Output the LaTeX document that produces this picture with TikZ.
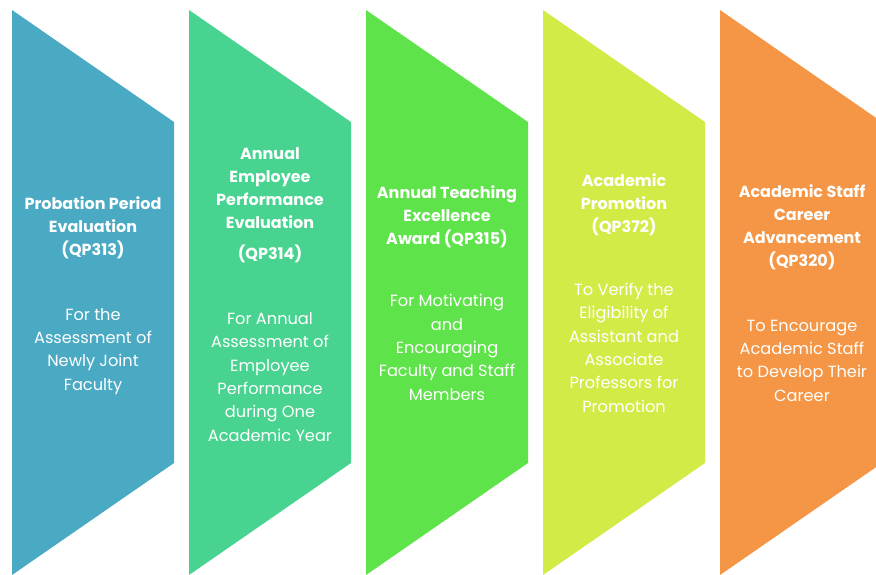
\documentclass[tikz,border=0pt]{standalone}
\usepackage{fontspec}
\setmainfont{Poppins}
\definecolor{cblue}{HTML}{4AAAC4}
\definecolor{cteal}{HTML}{48D490}
\definecolor{cgreen}{HTML}{5FE34A}
\definecolor{cyellow}{HTML}{D4EB47}
\definecolor{corange}{HTML}{F59646}
\tikzset{
  ttl/.style={text=white, align=center, anchor=base, inner sep=0pt,
    font=\fontsize{16}{22.8}\selectfont\bfseries},
  bdy/.style={text=white, align=center, anchor=base, inner sep=0pt,
    font=\fontsize{16.2}{23.3}\selectfont},
}
\newcommand{\chev}[2]{%
  \fill[#2] (#1,10) -- ++(162,112) -- ++(0,341) -- ++(-162,112) -- cycle;}
\begin{document}
\begin{tikzpicture}[x=1pt,y=-1pt]
\useasboundingbox (0,0) rectangle (876,574);
\begin{scope}
\clip (0,0) rectangle (876,574);
\chev{12}{cblue}
\chev{189}{cteal}
\chev{366}{cgreen}
\chev{543}{cyellow}
\chev{720}{corange}
\end{scope}
% shape 1
\node[ttl] (t1) at (93,255) {Probation Period\\Evaluation\\(QP313)};
\node[bdy] (b1) at (93,390) {For the\\Assessment of\\Newly Joint\\Faculty};
% shape 2
\node[ttl] (t2) at (270,228) {Annual\\Employee\\Performance\\Evaluation};
\node[ttl] (q2) at (270,259) {(QP314)};
\node[bdy] (b2) at (270,441) {For Annual\\Assessment of\\Employee\\Performance\\during One\\Academic Year};
% shape 3
\node[ttl] (t3) at (447,244) {Annual Teaching\\Excellence\\Award (QP315)};
\node[bdy] (b3) at (447,400) {For Motivating\\and\\Encouraging\\Faculty and Staff\\Members};
% shape 4
\node[ttl] (t4) at (624,232) {Academic\\Promotion\\(QP372)};
\node[bdy] (b4) at (624,412) {To Verify the\\Eligibility of\\Assistant and\\Associate\\Professors for\\Promotion};
% shape 5
\node[ttl] (t5) at (802,266) {Academic Staff\\Career\\Advancement\\(QP320)};
\node[bdy] (b5) at (802,401) {To Encourage\\Academic Staff\\to Develop Their\\Career};
\end{tikzpicture}
\end{document}
